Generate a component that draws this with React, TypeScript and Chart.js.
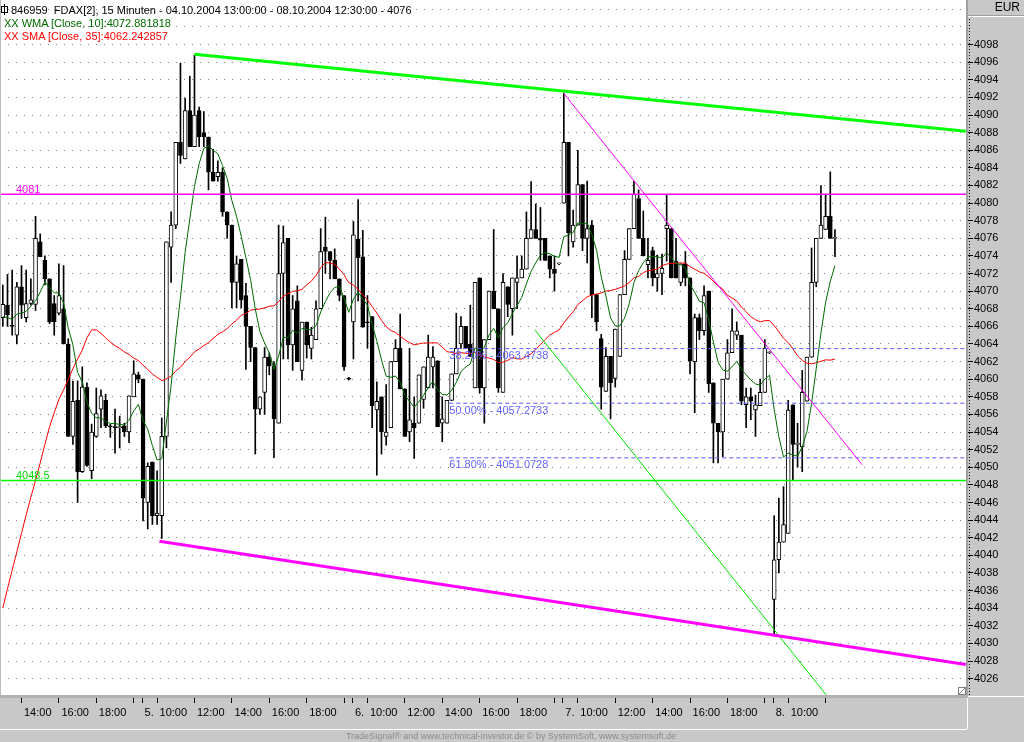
import { useEffect, useRef } from "react";
import Chart from "chart.js/auto";

// 15 minute FDAX bars, index 0 = 04.10.2004 13:00, 45 bars a session (9:15 - 20:15)
const opens = [
  4067.0, 4068.4, 4066.1, 4065.0, 4070.5, 4067.0, 4068.6, 4068.5, 4075.6, 4073.5,
  4071.4, 4068.6, 4067.5, 4068.0, 4064.0, 4053.5, 4057.6, 4049.5, 4059.1, 4049.6,
  4053.5, 4056.6, 4057.6, 4054.7, 4054.6, 4054.5, 4054.7, 4054.0, 4058.0, 4060.5,
  4060.0, 4046.0, 4050.6, 4044.5, 4044.5, 4053.5, 4075.0, 4077.5, 4086.9, 4085.0,
  4090.5, 4086.4, 4090.5, 4088.0, 4087.5, 4083.5, 4083.0, 4083.5, 4079.0, 4077.5,
  4071.0, 4073.6, 4069.5, 4066.0, 4063.6, 4056.6, 4058.5, 4062.5, 4061.5, 4055.0,
  4072.0, 4076.0, 4063.9, 4068.9, 4061.0, 4066.5, 4063.5, 4064.5, 4068.0, 4075.0,
  4074.5, 4073.5, 4071.4, 4069.5, 4060.1, 4066.5, 4075.9, 4073.9, 4066.5, 4067.1,
  4056.5, 4058.0, 4053.5, 4054.5, 4062.0, 4063.5, 4058.9, 4054.0, 4055.0, 4055.0,
  4057.7, 4059.0, 4061.4, 4062.1, 4055.0, 4055.0, 4057.6, 4060.6, 4064.0, 4066.0,
  4064.0, 4059.0, 4071.5, 4059.0, 4064.5, 4070.0, 4068.0, 4058.5, 4070.5, 4068.0,
  4071.0, 4071.5, 4072.5, 4076.0, 4077.0, 4076.0, 4076.0, 4074.0, 4072.5, 4073.1,
  4080.0, 4086.9, 4075.6, 4077.5, 4082.1, 4076.0, 4077.5, 4069.6, 4064.6, 4058.6,
  4062.6, 4060.1, 4062.6, 4069.6, 4073.6, 4077.1, 4080.5, 4076.0, 4073.0, 4074.6,
  4071.5, 4072.0, 4077.1, 4077.1, 4073.4, 4071.0, 4073.1, 4071.5, 4062.0, 4067.0,
  4065.5, 4070.0, 4059.6, 4055.0, 4054.0, 4060.0, 4063.0, 4065.0, 4065.0, 4057.1,
  4058.0, 4056.5, 4057.0, 4058.5, 4063.0, 4035.0, 4039.5, 4041.5, 4042.5, 4057.1,
  4052.6, 4052.3, 4057.5, 4062.5, 4071.0, 4076.0, 4077.0, 4078.5, 4076.0,
];
const highs = [
  4070.7, 4071.9, 4072.4, 4071.0, 4072.9, 4072.4, 4071.4, 4078.5, 4076.5, 4074.0,
  4071.4, 4069.5, 4073.1, 4072.9, 4064.6, 4059.8, 4059.8, 4061.4, 4059.6, 4054.9,
  4059.0, 4058.8, 4058.3, 4054.9, 4056.6, 4055.8, 4055.0, 4058.1, 4062.1, 4060.8,
  4060.0, 4050.5, 4050.6, 4049.6, 4055.6, 4075.6, 4079.0, 4086.9, 4095.9, 4091.9,
  4094.4, 4096.8, 4090.9, 4090.4, 4087.5, 4086.1, 4084.8, 4084.0, 4079.0, 4077.5,
  4074.0, 4073.6, 4070.9, 4066.0, 4063.6, 4058.0, 4063.6, 4063.0, 4062.0, 4077.5,
  4077.4, 4076.0, 4069.5, 4070.6, 4066.5, 4066.5, 4065.9, 4068.9, 4077.1, 4078.4,
  4074.5, 4074.8, 4071.4, 4069.5, 4060.2, 4077.9, 4080.4, 4076.9, 4069.5, 4067.1,
  4059.7, 4058.0, 4059.4, 4062.0, 4064.5, 4067.4, 4058.9, 4063.5, 4058.0, 4060.5,
  4061.4, 4065.0, 4063.7, 4062.1, 4058.0, 4057.6, 4060.6, 4067.5, 4067.1, 4066.0,
  4068.4, 4071.0, 4071.5, 4064.5, 4070.0, 4077.0, 4068.0, 4072.0, 4070.5, 4071.5,
  4074.0, 4074.0, 4079.0, 4082.45, 4079.9, 4079.5, 4076.0, 4074.0, 4074.0, 4073.2,
  4092.45, 4086.9, 4079.2, 4086.0, 4082.1, 4082.5, 4078.0, 4069.6, 4065.1, 4063.6,
  4062.6, 4065.7, 4069.6, 4074.6, 4077.1, 4082.5, 4081.5, 4079.1, 4076.0, 4075.0,
  4074.1, 4074.2, 4080.9, 4077.1, 4076.0, 4073.1, 4074.5, 4071.5, 4067.4, 4067.4,
  4070.6, 4070.0, 4059.6, 4055.0, 4060.0, 4064.5, 4068.0, 4066.5, 4065.0, 4059.0,
  4059.0, 4058.2, 4060.0, 4064.5, 4063.1, 4044.5, 4046.5, 4047.8, 4057.6, 4057.1,
  4055.0, 4061.0, 4062.5, 4074.9, 4076.0, 4082.0, 4081.0, 4083.55, 4077.0,
];
const lows = [
  4066.0, 4066.0, 4065.0, 4064.0, 4066.9, 4066.5, 4068.4, 4067.8, 4073.9, 4070.7,
  4066.3, 4065.0, 4067.3, 4064.0, 4053.5, 4052.6, 4046.0, 4049.4, 4050.1, 4048.7,
  4053.4, 4054.5, 4054.5, 4053.4, 4051.6, 4052.2, 4053.5, 4052.8, 4058.0, 4059.6,
  4043.9, 4043.0, 4043.5, 4043.5, 4041.9, 4052.2, 4071.0, 4077.1, 4084.5, 4085.0,
  4086.4, 4086.4, 4086.4, 4086.4, 4081.5, 4082.5, 4082.5, 4078.5, 4076.0, 4068.1,
  4068.1, 4068.1, 4061.1, 4062.0, 4051.5, 4056.0, 4056.0, 4060.5, 4051.1, 4055.0,
  4062.3, 4062.3, 4061.0, 4062.0, 4059.9, 4062.4, 4062.3, 4064.5, 4068.0, 4072.0,
  4071.4, 4071.4, 4068.9, 4061.0, 4059.9, 4062.3, 4068.9, 4065.9, 4063.5, 4054.5,
  4049.1, 4051.5, 4052.5, 4054.5, 4062.0, 4058.9, 4053.5, 4052.9, 4051.0, 4055.0,
  4056.7, 4059.0, 4059.0, 4054.6, 4052.9, 4055.0, 4057.6, 4060.6, 4063.5, 4063.5,
  4062.6, 4059.0, 4058.4, 4055.0, 4064.5, 4068.0, 4058.5, 4058.5, 4067.1, 4065.0,
  4068.0, 4071.5, 4072.5, 4076.0, 4076.0, 4073.5, 4073.5, 4071.5, 4070.0, 4073.0,
  4080.0, 4074.0, 4075.0, 4077.5, 4074.6, 4073.2, 4067.0, 4065.5, 4056.6, 4058.6,
  4055.5, 4059.1, 4062.6, 4069.6, 4073.6, 4077.1, 4076.0, 4074.0, 4071.5, 4070.6,
  4070.0, 4069.6, 4073.4, 4071.5, 4071.5, 4070.6, 4070.6, 4060.6, 4056.2, 4064.5,
  4065.0, 4058.5, 4050.5, 4050.5, 4051.2, 4060.0, 4063.0, 4064.5, 4057.1, 4054.5,
  4055.4, 4053.5, 4057.0, 4058.5, 4062.9, 4031.0, 4038.0, 4041.5, 4042.5, 4048.6,
  4050.0, 4049.5, 4057.5, 4062.5, 4070.5, 4076.0, 4077.0, 4076.0, 4073.9,
];
const closes = [
  4068.5, 4067.3, 4066.0, 4070.5, 4068.4, 4068.6, 4069.0, 4076.0, 4073.9, 4071.4,
  4066.5, 4066.5, 4069.5, 4064.0, 4053.5, 4057.5, 4049.5, 4059.1, 4050.2, 4054.0,
  4056.1, 4058.1, 4054.7, 4054.6, 4054.5, 4054.5, 4054.0, 4058.1, 4060.6, 4060.0,
  4046.5, 4050.1, 4044.5, 4044.8, 4053.5, 4075.6, 4077.5, 4086.9, 4085.4, 4090.5,
  4086.4, 4090.0, 4087.5, 4087.5, 4083.5, 4082.5, 4083.5, 4079.0, 4077.5, 4071.0,
  4073.1, 4069.0, 4066.0, 4063.6, 4056.6, 4058.0, 4062.5, 4061.5, 4055.5, 4072.0,
  4075.5, 4063.9, 4068.0, 4062.0, 4066.5, 4063.9, 4065.0, 4068.0, 4074.5, 4074.5,
  4073.5, 4071.4, 4069.5, 4061.4, 4060.0, 4076.4, 4073.8, 4065.9, 4066.4, 4057.0,
  4057.5, 4054.0, 4054.0, 4062.0, 4063.5, 4058.9, 4053.5, 4055.4, 4054.5, 4060.5,
  4061.4, 4062.5, 4062.5, 4054.6, 4055.5, 4057.6, 4060.6, 4063.5, 4066.0, 4063.5,
  4062.6, 4071.0, 4059.0, 4064.5, 4070.0, 4068.0, 4059.0, 4071.0, 4068.5, 4071.5,
  4071.5, 4072.5, 4076.0, 4077.0, 4076.0, 4075.8, 4073.5, 4072.5, 4072.0, 4073.1,
  4086.9, 4076.6, 4077.5, 4082.1, 4076.0, 4077.1, 4069.6, 4066.5, 4059.1, 4062.6,
  4059.6, 4065.7, 4069.6, 4073.6, 4077.1, 4081.0, 4076.0, 4074.0, 4073.5, 4071.5,
  4072.0, 4072.6, 4077.5, 4071.5, 4071.5, 4073.1, 4071.5, 4062.1, 4067.0, 4065.5,
  4069.5, 4059.5, 4055.0, 4054.0, 4060.0, 4063.0, 4065.5, 4065.5, 4057.5, 4058.0,
  4057.5, 4057.1, 4058.5, 4063.5, 4063.0, 4039.5, 4041.5, 4043.5, 4056.5, 4052.6,
  4052.7, 4058.5, 4062.5, 4071.0, 4076.0, 4077.5, 4078.5, 4076.0, 4076.0,
];

// indicator values read off the chart where the visible bars are not enough yet
const wmaHead = [4067.1, 4067.0, 4066.8, 4067.4, 4067.5, 4067.7, 4068.3, 4068.9, 4069.9];
const smaHead = [
  4034.0, 4036.2, 4038.3, 4040.4, 4042.5, 4044.6, 4046.6, 4048.5, 4050.5, 4052.6,
  4054.6, 4056.2, 4057.7, 4058.8, 4060.0, 4061.2, 4062.3, 4063.3, 4064.7, 4065.6,
  4065.6, 4065.2, 4064.7, 4064.2, 4063.8, 4063.5, 4063.1, 4062.8, 4062.4, 4062.1,
  4061.6, 4061.1, 4060.6, 4060.2,
];

// time axis: tick positions in bar units and their labels
const xTickPos = [
  4, 12, 20, 28, 29.8, 33, 41, 49, 57, 65, 73, 74.8, 78, 86, 94, 102, 110, 118,
  119.8, 123, 131, 139, 147, 155, 163, 164.8, 168, 176,
];
const xTickText = [
  "14:00", "16:00", "18:00", "", "5.", "10:00", "12:00", "14:00", "16:00", "18:00", "", "6.",
  "10:00", "12:00", "14:00", "16:00", "18:00", "", "7.", "10:00", "12:00", "14:00", "16:00",
  "18:00", "", "8.", "10:00", "",
];
const yTicks = [
  4026, 4028, 4030, 4032, 4034, 4036, 4038, 4040, 4042, 4044, 4046, 4048, 4050,
  4052, 4054, 4056, 4058, 4060, 4062, 4064, 4066, 4068, 4070, 4072, 4074, 4076,
  4078, 4080, 4082, 4084, 4086, 4088, 4090, 4092, 4094, 4096, 4098, 4100, 4102,
];

// drawing tools
const levelValues = [4081, 4048.5];
const levelText = ["4081", "4048.5"];
const fibValues = [4063.4738, 4057.2733, 4051.0728];
const fibText = ["38.20% - 4063.4738", "50.00% - 4057.2733", "61.80% - 4051.0728"];
const fibFrom = 95.5;
const upperTrend = [{ x: 41, y: 4096.9 }, { x: 206, y: 4088.15 }];
const lowerTrend = [{ x: 33.5, y: 4041.6 }, { x: 206, y: 4027.6 }];
const fallLine = [{ x: 120, y: 4092.45 }, { x: 183.8, y: 4050.3 }];
const supportLine = [{ x: 113.8, y: 4065.6 }, { x: 176.5, y: 4023.9 }];

const X_MIN = -0.6;
const X_MAX = 206.03;
const Y_MIN = 4024.14;
const Y_MAX = 4103.06;

const FONT = "'Liberation Sans', Arial, Helvetica, sans-serif";
const PANEL = "#c8c8c8";
const WMA_COLOR = "#006c00";
const SMA_COLOR = "#ff0000";

const wma = closes.map((_, i) => {
  if (i < 9) return wmaHead[i];
  let s = 0;
  for (let k = 0; k < 10; k++) s += closes[i - 9 + k] * (k + 1);
  return s / 55;
});

const sma = closes.map((_, i) => {
  if (i < 34) return smaHead[i];
  let s = 0;
  for (let k = i - 34; k <= i; k++) s += closes[k];
  return s / 35;
});

const line = (data: { x: number; y: number }[], color: string, width: number, order: number, dash: number[] = []) => ({
  type: "line" as const,
  data,
  borderColor: color,
  borderWidth: width,
  borderDash: dash,
  pointRadius: 0,
  fill: false,
  tension: 0,
  order,
});

const framePlugin = {
  id: "frame",
  beforeDraw(chart: any) {
    const { ctx, chartArea: a, width, height } = chart;
    ctx.save();
    ctx.fillStyle = PANEL;
    ctx.fillRect(0, 0, width, height);
    ctx.fillStyle = "#ffffff";
    ctx.fillRect(a.left, a.top, a.right - a.left, a.bottom - a.top);
    ctx.restore();
  },
  afterDraw(chart: any) {
    const { ctx, chartArea: a, width } = chart;
    const r = a.right;
    const b = a.bottom;
    ctx.save();
    ctx.fillStyle = "#bcbcbc";
    ctx.fillRect(0, 0, 1, b);
    ctx.fillStyle = "#a0a0a0";
    ctx.fillRect(r, 0, 2, b + 2);
    ctx.fillStyle = "#b0b0b0";
    ctx.fillRect(0, b, r + 2, 3);
    // bevels of the axis panels
    ctx.fillStyle = "#ffffff";
    ctx.fillRect(0, 729, r + 1, 1);
    ctx.fillRect(r + 1, b + 3, 1, 729 - b - 3);
    ctx.fillRect(r + 2, b + 1, width - r, 1);
    ctx.fillStyle = "#a0a0a0";
    ctx.fillRect(r + 2, 15, width - r, 1);
    ctx.fillStyle = "#ffffff";
    ctx.fillRect(r + 2, 16, width - r, 1);
    // dotted price axis line
    ctx.strokeStyle = "#000000";
    ctx.lineWidth = 1;
    ctx.setLineDash([1, 2]);
    ctx.beginPath();
    ctx.moveTo(r + 3.5, 19);
    ctx.lineTo(r + 3.5, b);
    ctx.stroke();
    ctx.setLineDash([]);
    // resize grip
    ctx.strokeStyle = "#808080";
    ctx.strokeRect(r - 7.5, b - 7.5, 7, 7);
    ctx.beginPath();
    ctx.moveTo(r - 7, b - 1);
    ctx.lineTo(r - 1, b - 7);
    ctx.stroke();
    ctx.restore();
  },
};

const labelPlugin = {
  id: "toolLabels",
  afterDatasetsDraw(chart: any) {
    const { ctx } = chart;
    const x = chart.scales.x;
    const y = chart.scales.y;
    ctx.save();
    ctx.font = `11px ${FONT}`;
    ctx.textAlign = "left";
    ctx.textBaseline = "alphabetic";
    const levelColors = ["#ff00ff", "#00dd00"];
    levelValues.forEach((v, k) => {
      ctx.fillStyle = levelColors[k];
      ctx.fillText(levelText[k], x.getPixelForValue(2.8), y.getPixelForValue(v) - 1.5);
    });
    ctx.textBaseline = "top";
    ctx.fillStyle = "#6464ff";
    fibValues.forEach((v, k) => {
      ctx.fillText(fibText[k], x.getPixelForValue(fibFrom), y.getPixelForValue(v) + 2);
    });
    ctx.restore();
  },
};

export default function App() {
  const canvasRef = useRef<HTMLCanvasElement>(null);

  useEffect(() => {
    if (!canvasRef.current) return;
    Chart.defaults.font.family = FONT;

    const wickData = highs.map((h, i) => ({ x: i, y: [lows[i], h] }));
    const bodyData = opens.map((o, i) => ({ x: i, y: [Math.min(o, closes[i]), Math.max(o, closes[i])] }));
    const bodyFill = opens.map((o, i) => (closes[i] >= o ? "#ffffff" : "#000000"));
    const full = (v: number) => [{ x: X_MIN, y: v }, { x: X_MAX, y: v }];
    const fib = (v: number) => [{ x: fibFrom, y: v }, { x: X_MAX, y: v }];

    const chart = new Chart(canvasRef.current, {
      type: "bar",
      data: {
        datasets: [
          line(upperTrend, "#00ff00", 3, 0),
          line(lowerTrend, "#ff00ff", 3, 0),
          line(fallLine, "#ff00ff", 1, 0),
          line(supportLine, "#00e000", 1, 0),
          line(full(levelValues[0]), "#ff00ff", 1.5, 0),
          line(full(levelValues[1]), "#00ff00", 1.5, 0),
          ...fibValues.map((v) => line(fib(v), "#5a5aff", 1, 0, [4, 3])),
          line(wma.map((v, i) => ({ x: i, y: v })), WMA_COLOR, 1, 1),
          line(sma.map((v, i) => ({ x: i, y: v })), SMA_COLOR, 1, 1),
          {
            type: "bar",
            data: bodyData,
            backgroundColor: bodyFill,
            borderColor: "#000000",
            borderWidth: 1,
            borderSkipped: false,
            barThickness: 4,
            minBarLength: 1,
            grouped: false,
            order: 2,
          },
          {
            type: "bar",
            data: wickData,
            backgroundColor: "#000000",
            borderWidth: 0,
            barThickness: 1,
            grouped: false,
            order: 3,
          },
        ] as any,
      },
      options: {
        animation: false,
        responsive: false,
        devicePixelRatio: 1,
        events: [],
        layout: { padding: 0 },
        plugins: { legend: { display: false }, tooltip: { enabled: false }, title: { display: false } },
        scales: {
          x: {
            type: "linear",
            min: X_MIN,
            max: X_MAX,
            offset: false,
            afterBuildTicks: (s: any) => {
              s.ticks = xTickPos.map((v) => ({ value: v }));
            },
            afterFit: (s: any) => {
              s.height = 47;
              s.paddingLeft = 0;
              s.paddingRight = 0;
            },
            grid: {
              display: true,
              drawOnChartArea: false,
              drawTicks: true,
              tickLength: 8,
              tickColor: "#000000",
              tickWidth: 1,
              offset: false,
            },
            border: { display: false },
            ticks: {
              autoSkip: false,
              maxRotation: 0,
              minRotation: 0,
              align: "start",
              labelOffset: 2.5,
              padding: 3,
              color: "#000000",
              font: { size: 11 },
              callback: (_v: any, idx: number) => xTickText[idx] ?? "",
            },
          },
          y: {
            type: "linear",
            position: "right",
            min: Y_MIN,
            max: Y_MAX,
            afterBuildTicks: (s: any) => {
              s.ticks = yTicks.map((v) => ({ value: v }));
            },
            afterFit: (s: any) => {
              s.width = 58;
              s.paddingTop = 0;
              s.paddingBottom = 0;
            },
            grid: {
              color: "#808080",
              lineWidth: 1,
              drawTicks: true,
              tickLength: 7,
              tickColor: (c: any) => (c.tick && c.tick.value > 4098 ? "rgba(0,0,0,0)" : "#000000"),
            },
            border: { display: false, dash: [1, 7] },
            ticks: {
              padding: 1,
              color: "#000000",
              font: { size: 11 },
              callback: (v: any) => (Number(v) <= 4098 ? String(v) : ""),
            },
          },
        },
      } as any,
      plugins: [framePlugin, labelPlugin],
    });

    return () => {
      chart.destroy();
    };
  }, []);

  const textLine = { position: "absolute" as const, left: 4, fontSize: 11, lineHeight: "14px", whiteSpace: "nowrap" as const };

  return (
    <div
      style={{
        position: "absolute",
        left: 0,
        top: 0,
        width: 1024,
        height: 742,
        overflow: "hidden",
        background: PANEL,
        fontFamily: FONT,
      }}
    >
      <canvas ref={canvasRef} width={1024} height={742} style={{ position: "absolute", left: 0, top: 0 }} />
      <div style={{ ...textLine, left: 1, top: 3, color: "#000000" }}>
        <span
          style={{
            display: "inline-block",
            position: "relative",
            width: 5,
            height: 5,
            border: "1px solid #000",
            marginRight: 3,
            verticalAlign: "1px",
          }}
        >
          <span style={{ position: "absolute", left: 2, top: -3, width: 1, height: 11, background: "#000" }} />
        </span>
        {"846959\u00a0\u00a0FDAX[2], 15 Minuten - 04.10.2004 13:00:00 - 08.10.2004 12:30:00 - 4076"}
      </div>
      <div style={{ ...textLine, top: 15.5, color: WMA_COLOR }}>XX WMA [Close, 10]:4072.881818</div>
      <div style={{ ...textLine, top: 29, color: SMA_COLOR }}>XX SMA [Close, 35]:4062.242857</div>
      <div
        style={{
          position: "absolute",
          left: 968,
          top: 0,
          width: 52,
          height: 15,
          textAlign: "right",
          fontSize: 12,
          lineHeight: "15px",
          color: "#000000",
        }}
      >
        EUR
      </div>
      <div
        style={{
          position: "absolute",
          left: 0,
          top: 730,
          width: 1022,
          textAlign: "center",
          fontSize: 9,
          lineHeight: "12px",
          color: "#8c8c8c",
        }}
      >
        TradeSignal® and www.technical-investor.de © by SystemSoft, www.systemsoft.de
      </div>
    </div>
  );
}
